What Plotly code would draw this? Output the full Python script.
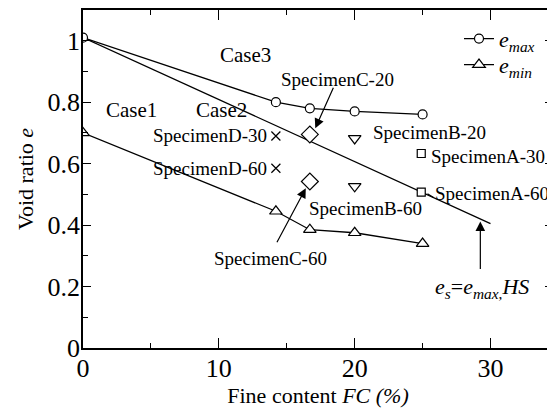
import plotly.graph_objects as go

# ---- data ----
fc_max = [0, 14.2, 16.7, 20, 25]
e_max = [1.01, 0.80, 0.78, 0.77, 0.76]
fc_min = [0, 14.2, 16.7, 20, 25]
e_min = [0.70, 0.445, 0.385, 0.375, 0.34]
es_fc = [0, 30]
es_e = [1.01, 0.405]

specD_fc = [14.2, 14.2]
specD_e = [0.69, 0.585]
specC_fc = [16.7, 16.7]
specC_e = [0.695, 0.542]
specB_fc = [20, 20]
specB_e = [0.682, 0.526]
specA_fc = [24.9, 24.9]
specA_e = [0.633, 0.507]

xticks = [0, 10, 20, 30]
yticks = [0, 0.2, 0.4, 0.6, 0.8, 1]
ytick_text = ["0", "0.2", "0.4", "0.6", "0.8", "1"]

SERIF = "Liberation Serif"
fig = go.Figure()

fig.add_trace(go.Scatter(x=es_fc, y=es_e, mode="lines",
                         line=dict(color="black", width=1.3), showlegend=False))
fig.add_trace(go.Scatter(x=fc_max, y=e_max, mode="lines+markers",
                         name="<i>e</i><sub><i>max</i></sub>", legend="legend",
                         line=dict(color="black", width=1.3),
                         marker=dict(symbol="circle", size=9, color="white",
                                     line=dict(color="black", width=1.2))))
fig.add_trace(go.Scatter(x=fc_min, y=e_min, mode="lines+markers",
                         name="<i>e</i><sub><i>min</i></sub>", legend="legend2",
                         line=dict(color="black", width=1.3),
                         marker=dict(symbol="triangle-up", size=11, color="white",
                                     line=dict(color="black", width=1.2))))
fig.add_trace(go.Scatter(x=specD_fc, y=specD_e, mode="markers", showlegend=False,
                         marker=dict(symbol="x-thin", size=9, color="black",
                                     line=dict(color="black", width=1.2))))
fig.add_trace(go.Scatter(x=specC_fc, y=specC_e, mode="markers", showlegend=False,
                         marker=dict(symbol="diamond", size=13, color="white",
                                     line=dict(color="black", width=1.2))))
fig.add_trace(go.Scatter(x=specB_fc, y=specB_e, mode="markers", showlegend=False,
                         marker=dict(symbol="triangle-down", size=11, color="white",
                                     line=dict(color="black", width=1.2))))
fig.add_trace(go.Scatter(x=specA_fc, y=specA_e, mode="markers", showlegend=False,
                         marker=dict(symbol="square", size=8, color="white",
                                     line=dict(color="black", width=1.2))))

ann_font = dict(family=SERIF, size=19, color="black")
case_font = dict(family=SERIF, size=21, color="black")

def text(x, y, t, xanchor="center", font=ann_font):
    fig.add_annotation(x=x, y=y, text=t, showarrow=False, xanchor=xanchor,
                       yanchor="middle", font=font)

def arrow(x0, y0, x1, y1, head=2):
    fig.add_annotation(x=x1, y=y1, ax=x0, ay=y0, axref="x", ayref="y",
                       text="", showarrow=True, arrowhead=head, arrowsize=1.6,
                       arrowwidth=1.2, arrowcolor="black",
                       font=dict(family=SERIF, size=12, color="black"))

text(11.95, 0.955, "Case3", font=case_font)
text(3.6, 0.774, "Case1", font=case_font)
text(10.2, 0.774, "Case2", font=case_font)
text(13.7, 0.69, "SpecimenD-30", xanchor="right")
text(13.7, 0.585, "SpecimenD-60", xanchor="right")
text(18.77, 0.874, "SpecimenC-20")
text(13.8, 0.29, "SpecimenC-60")
text(21.2, 0.70, "SpecimenB-20", xanchor="left")
text(20.8, 0.455, "SpecimenB-60")
text(25.5, 0.623, "SpecimenA-30", xanchor="left")
text(25.8, 0.503, "SpecimenA-60", xanchor="left")
text(29.4, 0.194, "<i>e</i><sub><i>s</i></sub>=<i>e</i><sub><i>max</i>,</sub><i>HS</i>",
     font=dict(family=SERIF, size=22, color="black"))

arrow(18.48, 0.852, 17.1, 0.715)
arrow(14.22, 0.339, 16.4, 0.52)
arrow(29.25, 0.252, 29.25, 0.412)
arrow(25.25, 0.505, 25.8, 0.49, head=0)

axis_common = dict(showline=True, linecolor="black", linewidth=1.5, mirror="ticks",
                   ticks="inside", tickcolor="black", showgrid=False, zeroline=False,
                   tickfont=dict(family=SERIF, size=26, color="black"))

fig.update_xaxes(range=[0, 34.6], tickvals=xticks, ticklen=10, tickwidth=1.2,
                 ticklabelstandoff=-4,
                 minor=dict(dtick=5, tick0=0, ticks="inside", ticklen=5,
                            tickcolor="black", tickwidth=1.2),
                 title=dict(text="Fine content <i>FC (%)</i>", standoff=2,
                            font=dict(family=SERIF, size=22, color="black")),
                 **axis_common)
fig.update_yaxes(range=[0, 1.1], tickvals=yticks, ticktext=ytick_text, ticklen=8,
                 tickwidth=1.2, ticklabelstandoff=-4,
                 minor=dict(dtick=0.1, tick0=0, ticks="inside", ticklen=5,
                            tickcolor="black", tickwidth=1.2),
                 title=dict(text="Void ratio <i>e</i>", standoff=8,
                            font=dict(family=SERIF, size=22, color="black")),
                 **axis_common)

leg_common = dict(xanchor="left", yanchor="middle", bgcolor="rgba(0,0,0,0)",
                  font=dict(family=SERIF, size=22, color="black"), itemwidth=30)

# page body adds an 8px offset; the figure is sized so the plot lands where the reference has it
fig.update_layout(width=547, height=404, autosize=False,
                  margin=dict(l=75, r=0, t=0, b=64),
                  plot_bgcolor="white", paper_bgcolor="white",
                  legend=dict(x=0.80, y=0.915, **leg_common),
                  legend2=dict(x=0.80, y=0.838, **leg_common))

fig.write_html("out.html")
